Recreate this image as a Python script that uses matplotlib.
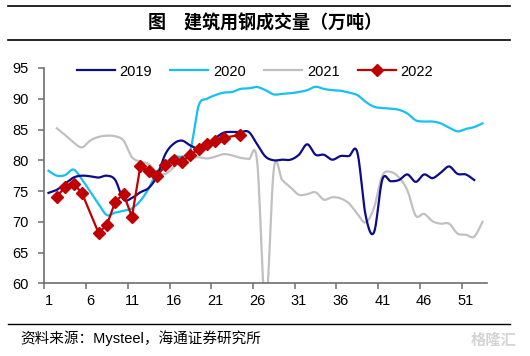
import numpy as np
import matplotlib
matplotlib.use("Agg")
import matplotlib.pyplot as plt
from matplotlib.lines import Line2D

plt.rcParams['font.family'] = ['Liberation Sans', 'Noto Sans CJK SC', 'DejaVu Sans']

# weekly data (万吨)
weeks_2019 = list(range(1, 53))
v2019 = [74.7, 75.2, 76.2, 77.2, 77.5, 77.4, 77.2, 77.5, 76.8, 73.6,
         73.9, 74.8, 75.5, 77.4, 81.0, 82.7, 83.2, 82.4, 81.9, 82.4,
         83.6, 84.5, 84.6, 84.6, 84.6, 82.6, 80.6, 80.0, 80.1, 80.1,
         80.9, 82.6, 80.9, 80.9, 80.1, 80.7, 80.7, 81.3, 71.0, 68.3,
         76.9, 76.6, 76.8, 77.7, 76.5, 77.7, 77.1, 78.0, 79.0, 77.8,
         77.7, 76.8]

weeks_2020 = list(range(1, 54))
v2020 = [78.3, 77.5, 77.6, 78.5, 76.9, 74.9, 72.9, 71.1, 71.5, 71.8,
         72.2, 73.4, 75.4, 78.1, 79.5, 80.6, 80.6, 81.7, 88.9, 90.0,
         90.6, 91.0, 91.1, 91.6, 91.7, 91.9, 91.4, 90.7, 90.8, 90.9,
         91.1, 91.4, 91.95, 91.6, 91.4, 91.3, 91.0, 90.6, 89.5, 88.7,
         88.5, 88.4, 88.2, 87.6, 86.5, 86.3, 86.3, 86.0, 85.3, 84.7,
         85.1, 85.4, 86.0]

weeks_2021 = list(range(2, 54))
v2021 = [85.2, 84.1, 82.9, 82.1, 83.2, 83.8, 84.0, 83.9, 83.2,
         80.5, 79.8, 79.4, 78.0, 77.8, 78.9, 80.0, 80.4, 80.5, 80.3,
         80.6, 81.0, 80.8, 80.4, 80.2, 79.8, 56.0, 78.6, 76.8, 75.6,
         74.4, 74.5, 74.8, 73.6, 74.0, 73.8, 73.0, 71.3, 69.9, 72.3,
         77.5, 78.1, 77.2, 75.1, 71.0, 71.3, 70.1, 69.7, 69.7, 68.1,
         67.9, 67.6, 70.0]

weeks_2022 = [2, 3, 4, 5, 7, 8, 9, 10, 11, 12, 13, 14, 15, 16, 17, 18,
              19, 20, 21, 22, 24]
v2022 = [74.1, 75.7, 76.2, 74.7, 68.2, 69.5, 73.3, 74.5, 70.8, 79.0,
         78.2, 77.4, 79.2, 80.1, 79.8, 80.9, 81.8, 82.7, 83.1, 83.7, 84.1]

tick_weeks = [1, 6, 11, 16, 21, 26, 31, 36, 41, 46, 51]


def smooth(x, y, n=12):
    # Excel-style smoothed line (bezier through the points)
    x = np.asarray(x, float)
    y = np.asarray(y, float)
    px = np.concatenate([[x[0]], x, [x[-1]]])
    py = np.concatenate([[y[0]], y, [y[-1]]])
    xs, ys = [], []
    for i in range(len(x) - 1):
        t = np.linspace(0, 1, n, endpoint=(i == len(x) - 2))
        for p, out in ((px, xs), (py, ys)):
            p0, p1, p2, p3 = p[i], p[i + 1], p[i + 2], p[i + 3]
            c1 = p1 + (p2 - p0) / 6
            c2 = p2 - (p3 - p1) / 6
            out.append((1 - t) ** 3 * p1 + 3 * (1 - t) ** 2 * t * c1
                       + 3 * (1 - t) * t ** 2 * c2 + t ** 3 * p2)
    return np.concatenate(xs), np.concatenate(ys)


fig = plt.figure(figsize=(5.3, 3.56), dpi=100)
ax = fig.add_axes([0.0836, 0.204, 0.8347, 0.605])

c19, c20, c21, c22 = '#0c0c8a', '#16c0f4', '#c0c0c0', '#c00000'
lw = 1.6

ax.plot(*smooth(weeks_2019, v2019), color=c19, lw=lw, label='2019', zorder=3)
ax.plot(*smooth(weeks_2020, v2020), color=c20, lw=lw, label='2020', zorder=2)
ax.plot(*smooth(weeks_2021, v2021), color=c21, lw=lw, label='2021', zorder=1)
ax.plot(weeks_2022, v2022, color=c22, lw=lw, marker='D', markersize=6,
        label='2022', zorder=4)

ax.set_xlim(0.5, 53.5)
ax.set_ylim(60, 95)
ax.set_yticks(range(60, 100, 5))
ax.set_xticks(tick_weeks)
ax.set_xticklabels([str(w) for w in tick_weeks])
ax.set_xticks([w - 0.5 for w in tick_weeks], minor=True)

for s in ['top', 'right']:
    ax.spines[s].set_visible(False)
for s in ['left', 'bottom']:
    ax.spines[s].set_color('#6e6e6e')
    ax.spines[s].set_linewidth(1.2)

ax.tick_params(axis='x', which='major', length=0, pad=8, labelsize=10.5)
ax.tick_params(axis='x', which='minor', length=4, width=1.1, color='#6e6e6e',
               direction='out')
ax.tick_params(axis='y', length=4.5, width=1.1, color='#6e6e6e', pad=7,
               labelsize=10.5)

ax.legend(loc='center', bbox_to_anchor=(0.481, 0.799),
          bbox_transform=fig.transFigure, ncol=4, frameon=False,
          fontsize=10.5, handlelength=2.6, handletextpad=0.3,
          columnspacing=1.3)

# title with rules
fig.add_artist(Line2D([0.015, 0.962], [0.983, 0.983], color='black', lw=1.2))
fig.add_artist(Line2D([0.015, 0.962], [0.887, 0.887], color='black', lw=1.2))
fig.text(0.5, 0.934, '图\u3000建筑用钢成交量（万吨）', ha='center', va='center',
         fontsize=13, fontweight='bold', family=['Noto Sans CJK SC'])

# source line
fig.add_artist(Line2D([0.015, 0.962], [0.090, 0.090], color='black', lw=1.0))
fig.text(0.038, 0.049, '资料来源：Mysteel，海通证券研究所', ha='left', va='center',
         fontsize=10.5, family=['Liberation Sans', 'Noto Sans CJK SC'])
fig.text(0.975, 0.045, '格隆汇', ha='right', va='center', fontsize=11,
         fontweight='bold', color='#d4d4d4', family=['Noto Sans CJK SC'])

fig.savefig('out.png', dpi=100)
